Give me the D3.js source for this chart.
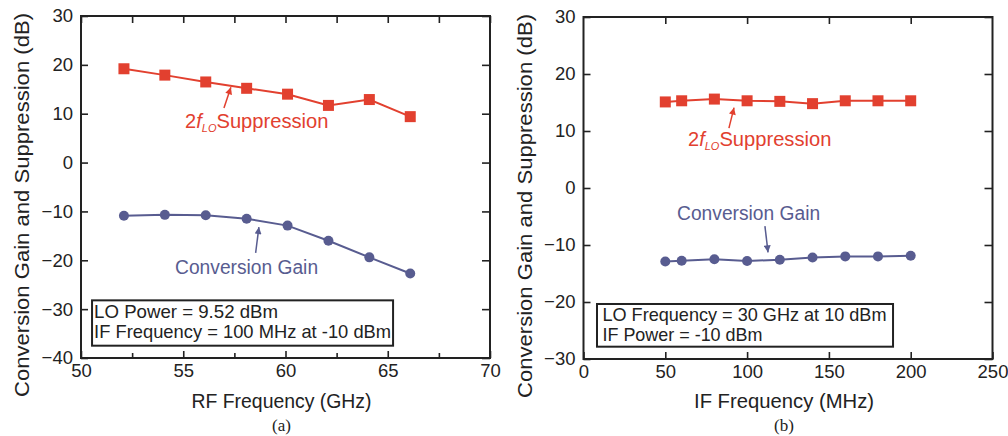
<!DOCTYPE html>
<html><head><meta charset="utf-8">
<script src="https://cdn.jsdelivr.net/npm/d3@7"></script>
<style>
html,body{margin:0;padding:0;background:#fff;}
svg text{font-family:"Liberation Sans",Arial,Helvetica,sans-serif;fill:#222;}
</style></head>
<body>
<svg id="c" width="1008" height="436"></svg>
<script>
// ---------- data ----------
const rfFreq = [52.1, 54.1, 56.1, 58.1, 60.1, 62.1, 64.1, 66.1];
const rfSuppression = [19.2, 17.9, 16.5, 15.2, 14.0, 11.7, 12.9, 9.4];
const rfGain = [-10.9, -10.7, -10.8, -11.5, -12.9, -16.0, -19.4, -22.7];

const ifFreq = [50, 60, 80, 100, 120, 140, 160, 180, 200];
const ifSuppression = [15.1, 15.3, 15.6, 15.3, 15.2, 14.8, 15.3, 15.3, 15.3];
const ifGain = [-12.9, -12.75, -12.5, -12.8, -12.6, -12.2, -12.0, -12.0, -11.9];

const rfXTicks = [50, 55, 60, 65, 70];
const rfXMinor = [52.5, 57.5, 62.5, 67.5];
const rfYTicks = [30, 20, 10, 0, -10, -20, -30, -40];
const ifXTicks = [0, 50, 100, 150, 200, 250];
const ifXInner = [50, 100, 150, 200];
const ifYTicks = [30, 20, 10, 0, -10, -20, -30];

const rfNotes = ["LO Power = 9.52 dBm", "IF Frequency = 100 MHz at -10 dBm"];
const ifNotes = ["LO Frequency = 30 GHz at 10 dBm", "IF Power = -10 dBm"];

const RED = "#e2402f", BLUE = "#585c90", INK = "#222";

const svg = d3.select("#c");
const defs = svg.append("defs");
function marker(id, color){
  defs.append("marker").attr("id", id).attr("viewBox","0 0 10 10")
    .attr("refX",10).attr("refY",5).attr("markerWidth",8).attr("markerHeight",7)
    .attr("markerUnits","userSpaceOnUse").attr("orient","auto")
    .append("path").attr("d","M0,0L10,5L0,10z").attr("fill",color);
}
marker("ar", RED); marker("ab", BLUE);

function panel(cfg){
  const g = svg.append("g");
  const x = d3.scaleLinear().domain(cfg.xDomain).range([cfg.left, cfg.right]);
  const y = d3.scaleLinear().domain(cfg.yDomain).range([cfg.bottom, cfg.top]);

  // frame
  g.append("rect").attr("x", cfg.left).attr("y", cfg.top)
    .attr("width", cfg.right-cfg.left).attr("height", cfg.bottom-cfg.top)
    .attr("fill","none").attr("stroke",INK).attr("stroke-width",2);

  const styleAxis = sel => {
    sel.select(".domain").remove();
    sel.selectAll(".tick line").attr("stroke",INK).attr("stroke-width",1.6);
    sel.selectAll(".tick text").attr("font-size",18.5).attr("fill",INK)
      .attr("font-family",'"Liberation Sans",Arial,sans-serif');
  };
  g.append("g").attr("transform",`translate(0,${cfg.bottom})`)
    .call(d3.axisBottom(x).tickValues(cfg.xTicks).tickSize(-7).tickPadding(6).tickFormat(d3.format("d")))
    .call(styleAxis);
  g.append("g").attr("transform",`translate(0,${cfg.top})`)
    .call(d3.axisTop(x).tickValues(cfg.xInner).tickSize(-7).tickFormat(""))
    .call(styleAxis);
  if (cfg.xMinor){
    g.append("g").attr("transform",`translate(0,${cfg.bottom})`)
      .call(d3.axisBottom(x).tickValues(cfg.xMinor).tickSize(-5).tickFormat(""))
      .call(styleAxis);
    g.append("g").attr("transform",`translate(0,${cfg.top})`)
      .call(d3.axisTop(x).tickValues(cfg.xMinor).tickSize(-7).tickFormat(""))
      .call(styleAxis);
  }
  g.append("g").attr("transform",`translate(${cfg.left},0)`)
    .call(d3.axisLeft(y).tickValues(cfg.yTicks).tickSize(-7).tickPadding(8))
    .call(styleAxis);
  g.append("g").attr("transform",`translate(${cfg.right},0)`)
    .call(d3.axisRight(y).tickValues(cfg.yTicks).tickSize(-8).tickFormat(""))
    .call(styleAxis);

  // titles
  const cx = (cfg.left+cfg.right)/2 - 4;
  g.append("text").attr("x",cx).attr("y",408).attr("text-anchor","middle")
    .attr("font-size",19.5).attr("textLength",180).attr("lengthAdjust","spacingAndGlyphs").text(cfg.xTitle);
  g.append("text").attr("x",cx).attr("y",431).attr("text-anchor","middle")
    .attr("font-size",17).style("font-family",'"Liberation Serif","Times New Roman",serif').text(cfg.label);
  g.append("text").attr("transform",`translate(${cfg.left-52},${(cfg.top+cfg.bottom)/2+18}) rotate(-90)`)
    .attr("text-anchor","middle").attr("font-size",19.5).attr("textLength",384).attr("lengthAdjust","spacingAndGlyphs")
    .text("Conversion Gain and Suppression (dB)");

  // series
  const line = d3.line().x(d=>x(d[0])).y(d=>y(d[1]));
  const sup = cfg.xs.map((v,i)=>[v, cfg.sup[i]]);
  const gain = cfg.xs.map((v,i)=>[v, cfg.gain[i]]);
  g.append("path").datum(sup).attr("d",line).attr("fill","none").attr("stroke",RED).attr("stroke-width",2);
  g.selectAll(".sq").data(sup).enter().append("rect")
    .attr("x",d=>x(d[0])-5.5).attr("y",d=>y(d[1])-5.5).attr("width",11).attr("height",11).attr("fill",RED);
  g.append("path").datum(gain).attr("d",line).attr("fill","none").attr("stroke",BLUE).attr("stroke-width",2);
  g.selectAll(".ci").data(gain).enter().append("circle")
    .attr("cx",d=>x(d[0])).attr("cy",d=>y(d[1])).attr("r",5).attr("fill",BLUE);

  // annotations
  const a = cfg.ann;
  const t = g.append("text").attr("x",x(a.supText[0])).attr("y",y(a.supText[1]))
    .attr("font-size",20).style("fill",RED);
  t.append("tspan").text("2");
  t.append("tspan").attr("font-style","italic").text("f");
  t.append("tspan").attr("font-style","italic").attr("font-size",11).attr("dy",4).text("LO");
  t.append("tspan").attr("dy",-4).attr("textLength",112).attr("lengthAdjust","spacingAndGlyphs").text("Suppression");
  g.append("line").attr("x1",x(a.supArrow[0])).attr("y1",y(a.supArrow[1]))
    .attr("x2",x(a.supArrow[2])).attr("y2",y(a.supArrow[3]))
    .attr("stroke",RED).attr("stroke-width",1.5).attr("marker-end","url(#ar)");
  g.append("text").attr("x",x(a.gainText[0])).attr("y",y(a.gainText[1]))
    .attr("font-size",20).style("fill",BLUE).attr("textLength",143).attr("lengthAdjust","spacingAndGlyphs")
    .text("Conversion Gain");
  g.append("line").attr("x1",x(a.gainArrow[0])).attr("y1",y(a.gainArrow[1]))
    .attr("x2",x(a.gainArrow[2])).attr("y2",y(a.gainArrow[3]))
    .attr("stroke",BLUE).attr("stroke-width",1.5).attr("marker-end","url(#ab)");

  // note box
  const b = a.box;
  g.append("rect").attr("x",x(b[0])).attr("y",y(b[1])).attr("width",x(b[2])-x(b[0])).attr("height",y(b[3])-y(b[1]))
    .attr("fill","none").attr("stroke",INK).attr("stroke-width",2);
  cfg.notes.forEach((s,i)=>{
    g.append("text").attr("x",x(a.noteX)).attr("y",y(a.noteY[i]))
      .attr("font-size",19).attr("textLength",a.noteW[i]).attr("lengthAdjust","spacingAndGlyphs").text(s);
  });
}

panel({
  left:81, right:490, top:16, bottom:358,
  xDomain:[50,70], yDomain:[-40,30],
  xTicks:rfXTicks, xInner:rfXTicks, xMinor:rfXMinor, yTicks:rfYTicks,
  xTitle:"RF Frequency (GHz)", label:"(a)",
  xs:rfFreq, sup:rfSuppression, gain:rfGain, notes:rfNotes,
  ann:{supText:[55.09,7.08], supArrow:[56.99,11.17,57.33,15.4],
       gainText:[54.6,-22.8], gainArrow:[58.54,-18.5,58.7,-13.2],
       box:[50.54,-28.2,65.26,-37.48], noteX:50.64, noteY:[-31.8,-35.9], noteW:[184,297]}
});
panel({
  left:583.5, right:992.5, top:17, bottom:359,
  xDomain:[0,250], yDomain:[-30,30],
  xTicks:ifXTicks, xInner:ifXInner, xMinor:null, yTicks:ifYTicks,
  xTitle:"IF Frequency (MHz)", label:"(b)",
  xs:ifFreq, sup:ifSuppression, gain:ifGain, notes:ifNotes,
  ann:{supText:[63.9,7.37], supArrow:[88.9,10.5,92.0,14.1],
       gainText:[57.2,-5.6], gainArrow:[110.9,-6.7,112.8,-11.3],
       box:[8.25,-20.35,189.2,-27.84], noteX:11.6, noteY:[-23.4,-26.9], noteW:[284,160]}
});
</script>
</body></html>
